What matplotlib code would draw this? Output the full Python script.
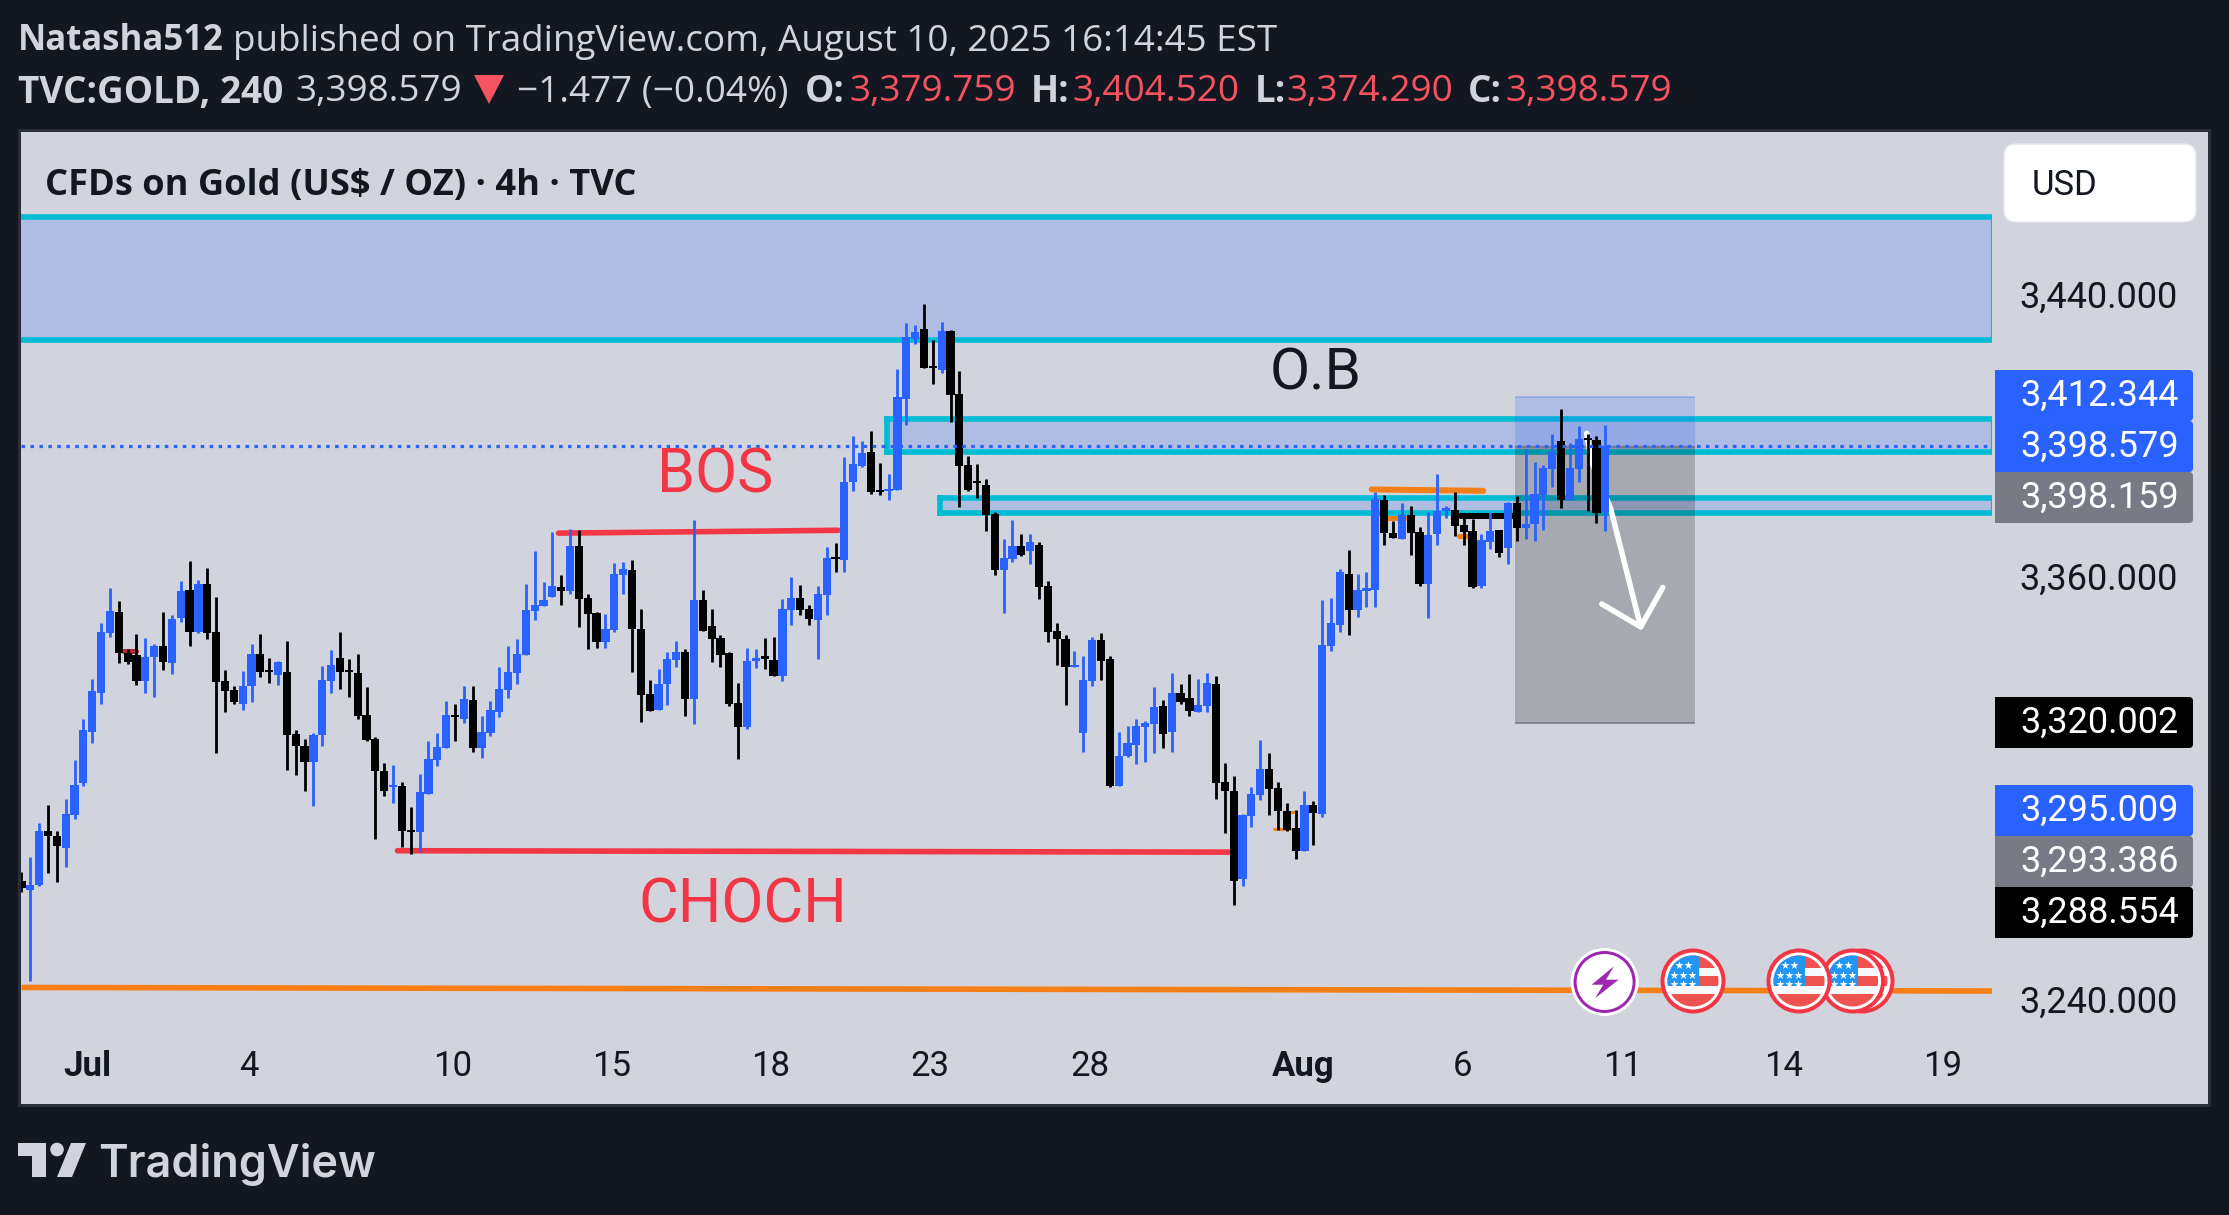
import matplotlib
matplotlib.use('Agg')
import matplotlib.pyplot as plt
from matplotlib.patches import Rectangle, FancyBboxPatch, Circle, Polygon
from matplotlib.transforms import ScaledTranslation

plt.rcParams['font.family'] = ['Roboto', 'DejaVu Sans']

BG = '#131722'
PANEL = '#D1D4DC'
BLUE = '#2962FF'
TEAL = '#00BCD4'
RED = '#F23645'
ORANGE = '#F57F17'
HEAD_RED = '#F7525F'
W, H = 2229, 1215
PX = 0.72  # one pixel in points at dpi 100

# 4h candles
highs = [3277.7,3281.8,3291.6,3296.8,3289.3,3298.5,3309.5,3321.0,3332.4,3348.3,
         3358.2,3354.6,3340.8,3345.2,3344.1,3342.3,3351.5,3350.5,3360.3,3365.9,
         3360.5,3363.9,3355.6,3335.0,3330.4,3334.7,3342.3,3345.2,3338.4,3337.6,
         3343.2,3318.0,3315.3,3317.1,3336.1,3340.6,3345.8,3338.0,3339.5,3330.2,
         3315.9,3308.6,3308.0,3303.2,3296.1,3305.5,3314.8,3317.1,3326.3,3325.2,
         3330.4,3330.4,3321.9,3326.1,3335.9,3341.7,3343.9,3359.3,3368.7,3359.9,
         3374.2,3361.9,3375.0,3374.7,3356.6,3351.5,3350.9,3365.4,3365.6,3366.3,
         3352.3,3332.1,3335.3,3340.1,3343.2,3340.9,3377.5,3357.7,3352.3,3344.9,
         3340.1,3331.3,3341.2,3340.8,3344.1,3344.3,3355.1,3361.3,3359.1,3353.4,
         3358.8,3369.9,3371.0,3395.3,3401.4,3400.0,3402.8,3393.7,3390.6,3420.4,
         3433.4,3432.9,3438.8,3428.6,3433.7,3431.5,3419.8,3395.8,3393.4,3389.1,
         3379.8,3372.1,3377.5,3373.6,3373.6,3371.3,3360.1,3348.3,3344.9,3340.3,
         3339.0,3344.3,3345.4,3339.0,3317.4,3319.0,3321.0,3320.5,3330.2,3326.5,
         3334.1,3331.0,3333.9,3332.4,3334.1,3333.3,3308.6,3304.9,3294.1,3301.8,
         3315.1,3311.4,3303.2,3297.3,3295.3,3300.6,3297.9,3354.8,3355.4,3363.6,
         3369.1,3362.2,3362.8,3385.5,3384.6,3377.2,3382.3,3381.5,3375.5,3379.8,
         3390.5,3381.5,3385.4,3379.1,3377.9,3373.5,3379.9,3374.6,3382.6,3384.3,
         3397.8,3393.9,3393.0,3401.9,3409.0,3399.3,3404.1,3401.9,3401.3,3404.52]
body_tops = [3275,3274.0,3289.3,3289.3,3287.9,3294.1,3302.3,3318.0,3329.0,3345.8,
             3351.7,3351.5,3339.7,3339.1,3338.6,3341.7,3341.7,3349.4,3357.4,3357.7,
             3359.3,3359.3,3345.8,3331.9,3329.2,3330.4,3339.5,3339.5,3334.9,3337.2,
             3334.4,3316.8,3313.4,3316.5,3332.1,3336.4,3338.4,3334.9,3334.1,3322.2,
             3315.3,3306.3,3302.3,3302.0,3289.5,3300.4,3309.7,3313.1,3322.2,3322.2,
             3326.7,3326.5,3317.4,3323.7,3329.6,3334.4,3339.5,3352.0,3353.4,3354.8,
             3358.8,3358.5,3370.1,3370.1,3355.3,3351.1,3346.6,3362.2,3363.6,3363.4,
             3346.6,3328.2,3331.0,3338.0,3340.1,3340.1,3354.8,3354.8,3347.4,3344.1,
             3339.7,3325.6,3337.6,3338.4,3338.8,3337.8,3352.3,3355.4,3355.4,3352.3,
             3356.6,3366.7,3366.9,3388.3,3393.4,3396.5,3396.9,3386.1,3386.3,3412.4,
             3429.3,3430.9,3431.7,3421.2,3431.1,3431.1,3413.3,3393.1,3388.5,3387.5,
             3379.3,3366.7,3370.1,3370.1,3371.3,3370.5,3358.8,3346.0,3343.7,3336.5,
             3332.1,3343.5,3343.5,3338.0,3310.7,3314.3,3319.0,3319.9,3324.5,3324.7,
             3328.4,3328.4,3327.0,3325.1,3331.3,3331.0,3303.2,3300.6,3293.7,3299.8,
             3306.9,3306.9,3301.4,3295.1,3290.1,3296.7,3296.7,3342.1,3348.3,3362.8,
             3362.2,3357.7,3358.2,3383.4,3383.2,3373.9,3378.9,3378.9,3374.1,3373.2,
             3380.0,3380.8,3380.3,3376.0,3374.4,3371.8,3374.4,3374.6,3382.4,3382.3,
             3376.5,3384.9,3392.2,3396.8,3399.9,3392.2,3400.5,3400.7,3400.2,3398.579]
body_bottoms = [3273,3272.6,3274.0,3287.9,3284.9,3284.4,3293.9,3302.9,3317.5,3328.4,
                3345.4,3339.7,3337.2,3331.9,3331.9,3338.6,3337.2,3337.0,3349.7,3345.8,
                3345.8,3345.4,3331.7,3329.1,3325.9,3325.2,3330.3,3334.4,3334.3,3333.6,
                3316.4,3313.3,3309.0,3309.0,3316.4,3331.9,3334.4,3334.3,3321.9,3315.1,
                3306.4,3300.6,3301.7,3289.3,3288.9,3289.0,3299.9,3309.4,3312.7,3321.5,
                3321.0,3312.7,3312.7,3317.1,3323.1,3329.3,3334.0,3339.3,3351.8,3353.2,
                3355.7,3357.4,3357.4,3355.1,3350.9,3342.8,3342.8,3346.3,3362.0,3346.5,
                3328.0,3323.2,3323.7,3331.0,3337.8,3326.8,3326.8,3345.9,3343.7,3339.2,
                3325.4,3318.8,3318.8,3337.5,3338.1,3333.3,3333.3,3352.0,3352.0,3349.4,
                3349.1,3356.2,3366.4,3366.1,3388.3,3392.9,3385.6,3385.4,3385.7,3385.9,
                3411.9,3429.0,3420.7,3420.6,3420.1,3413.1,3392.9,3386.1,3387.9,3379.0,
                3363.4,3363.4,3366.4,3367.6,3368.7,3358.5,3345.8,3343.7,3335.8,3335.8,
                3317.1,3331.9,3337.6,3302.0,3302.0,3310.6,3313.8,3318.8,3319.6,3316.8,
                3317.4,3325.9,3323.2,3323.1,3324.7,3303.0,3300.6,3275.2,3275.6,3293.6,
                3299.6,3301.3,3295.1,3289.6,3283.7,3283.6,3294.3,3294.1,3341.7,3347.8,
                3352.0,3352.0,3357.4,3357.8,3373.9,3372.5,3372.2,3373.9,3359.3,3359.4,
                3373.5,3380.1,3375.8,3374.1,3358.6,3358.8,3371.2,3368.2,3369.6,3375.3,
                3375.3,3376.4,3384.6,3392.0,3383.3,3383.2,3392.0,3400.2,3379.6,3379.759]
lows = [3272,3246.7,3273.8,3277.5,3274.7,3279.1,3292.8,3302.0,3314.3,3325.2,
        3344.3,3337.0,3336.8,3330.7,3328.4,3327.3,3335.0,3333.9,3348.6,3341.7,
        3345.4,3343.7,3311.5,3323.1,3325.4,3323.7,3325.9,3332.9,3331.3,3330.7,
        3306.7,3305.1,3300.6,3296.5,3313.3,3328.4,3329.6,3327.3,3321.0,3314.9,
        3287.0,3299.2,3297.3,3284.7,3282.9,3283.3,3299.9,3307.7,3312.7,3314.9,
        3320.0,3311.7,3310.0,3316.3,3321.6,3327.0,3331.0,3339.3,3349.1,3353.0,
        3355.7,3353.4,3356.6,3347.2,3340.9,3341.2,3341.2,3345.8,3356.6,3334.4,
        3320.2,3323.2,3323.7,3325.1,3335.8,3321.9,3319.7,3345.9,3337.2,3335.8,
        3324.7,3309.8,3318.2,3335.5,3335.3,3333.3,3331.9,3347.8,3350.5,3347.8,
        3338.0,3350.5,3362.8,3362.8,3385.7,3392.7,3384.9,3384.6,3383.2,3385.9,
        3404.5,3427.4,3420.7,3416.1,3419.2,3405.3,3381.2,3385.7,3383.9,3374.4,
        3361.9,3351.1,3365.6,3367.3,3365.0,3355.1,3342.9,3336.4,3325.1,3335.8,
        3311.7,3330.4,3332.1,3301.8,3302.0,3310.4,3308.2,3308.9,3311.3,3312.7,
        3311.7,3325.4,3321.9,3323.1,3323.1,3298.4,3288.7,3268.4,3273.8,3290.4,
        3298.2,3293.9,3289.6,3289.3,3281.4,3283.6,3285.3,3293.3,3340.5,3345.8,
        3344.9,3350.0,3352.9,3352.9,3370.4,3372.5,3372.2,3367.7,3358.8,3349.8,
        3370.5,3378.1,3373.0,3370.5,3358.3,3358.3,3369.4,3367.1,3365.1,3371.6,
        3372.2,3371.6,3374.7,3386.9,3381.0,3383.2,3388.4,3380.1,3376.7,3374.29]
# U = blue up candle, d = black down candle
directions = ("dUUddUUUUU" "UdddUUdUUd" "UddddUUddU" "dddUUUdddd" "ddUddUUUUd" "UdUUUUUUUU"
              "UdUdddUUUd" "ddUUUdUddd" "ddUUddUUdd" "UUdUUUddUU" "UUddUddddd" "dUUdUddddU"
              "UUddUUUUUd" "UddUUdddUU" "UddddUdUUU" "dUUUddUddU" "UUdddUUdUd" "UUUUdUUddU")

x_tick_bars = [7.5, 25.7, 48.7, 66.7, 84.7, 102.7, 120.8, 144.9, 162.9, 180.9, 199.1, 217.1]
x_tick_labels = ['Jul', '4', '10', '15', '18', '23', '28', 'Aug', '6', '11', '14', '19']
y_ticks = [3440, 3360, 3240]
y_tick_labels = ['3,440.000', '3,360.000', '3,240.000']

last_price = 3398.579
position_stop = 3412.344
position_entry = 3398.159
position_target = 3320.002

# drawn levels: x0, x1, price0, price1
bos_line = (60.7, 92.3, 3373.8, 3374.6)
choch_line = (42.5, 136.4, 3283.7, 3283.3)
low_line = (0, 222.7, 3244.9, 3243.9)
orange_top = (152.6, 165.2, 3386.2, 3385.8)
zone_top = (3463.5, 3428.7)
zone_mid = (97.8, 3406.2, 3396.9)
zone_low = (103.8, 3383.8, 3379.6)

# price labels on the right: text, colour, top pixel
axis_labels = [('3,412.344', BLUE, 370), ('3,398.579', BLUE, 421), ('3,398.159', '#787B86', 472),
               ('3,320.002', '#000000', 697), ('3,295.009', BLUE, 785),
               ('3,293.386', '#787B86', 836), ('3,288.554', '#000000', 887)]

fig = plt.figure(figsize=(W / 100, H / 100), dpi=100, facecolor=BG)


def px_axes(zorder):
    a = fig.add_axes([0, 0, 1, 1], zorder=zorder)
    a.set_xlim(0, W)
    a.set_ylim(H, 0)
    a.axis('off')
    return a


bg = px_axes(0)
bg.add_patch(Rectangle((18, 129), 2193, 978, fc='#2A2E39', ec='none'))
bg.add_patch(Rectangle((21, 132), 2187, 972, fc=PANEL, ec='none'))

# price pane, x in bars and y in price
L, R, T, B = 21, 1992, 132, 1040
ax = fig.add_axes([L / W, 1 - B / H, (R - L) / W, (B - T) / H], zorder=1)
ax.patch.set_visible(False)
for s in ax.spines.values():
    s.set_visible(False)
ax.set_xlim(-0.05, 222.7)
ax.set_ylim(3230.0, 3487.6)

ax.add_patch(Rectangle((-1, zone_top[1]), 224, zone_top[0] - zone_top[1], fc=BLUE, alpha=0.2, ec='none', zorder=1))
ax.hlines(zone_top, -1, 222.7, color=TEAL, lw=5.6 * PX, zorder=1.5)
ax.vlines(222.6, zone_top[1], zone_top[0], color=TEAL, lw=1.2 * PX, zorder=1.5)
for x0, p_hi, p_lo in [zone_mid, zone_low]:
    ax.add_patch(Rectangle((x0, p_lo), 222.7 - x0, p_hi - p_lo, fc=BLUE, alpha=0.2, ec='none', zorder=1))
    ax.hlines([p_hi, p_lo], x0 - 0.3, 222.7, color=TEAL, lw=5.6 * PX, zorder=1.5)
    ax.vlines(x0, p_lo - 0.8, p_hi + 0.8, color=TEAL, lw=5.6 * PX, zorder=1.5)
    ax.vlines(222.6, p_lo, p_hi, color=TEAL, lw=1.2 * PX, zorder=1.5)

# short position box
pos_x0, pos_x1 = 168.8, 189.1
ax.add_patch(Rectangle((pos_x0, position_entry), pos_x1 - pos_x0, position_stop - position_entry,
                       fc=BLUE, alpha=0.2, ec='none', zorder=2))
ax.add_patch(Rectangle((pos_x0, position_target), pos_x1 - pos_x0, position_entry - position_target,
                       fc='#000000', alpha=0.2, ec='none', zorder=2))
ax.hlines(position_stop, pos_x0, pos_x1, color=BLUE, alpha=0.25, lw=2 * PX, zorder=2)
ax.hlines(position_entry, pos_x0, pos_x1, color='#787B86', lw=2.4 * PX, zorder=2)
ax.hlines(position_target, pos_x0, pos_x1, color='#787B86', alpha=0.8, lw=2 * PX, zorder=2)


def level(seg, color, lw=5.6):
    ax.plot(seg[:2], seg[2:], color=color, lw=lw * PX, solid_capstyle='round', zorder=3)


level(bos_line, RED)
level(choch_line, RED)
ax.plot(low_line[:2], low_line[2:], color=ORANGE, lw=5.6 * PX, solid_capstyle='butt', zorder=3)
level(orange_top, ORANGE, 6)
level((154.3, 156.5, 3378.2, 3378.2), ORANGE, 5)
level((162.5, 164, 3372.9, 3372.9), ORANGE, 5)
level((141.6, 143.4, 3289.9, 3289.9), ORANGE, 3)
level((143.0, 144.0, 3294.6, 3294.6), ORANGE, 3)
level((162.7, 168.6, 3378.6, 3378.6), '#000000', 6)
level((11.5, 12.9, 3340.4, 3340.4), '#B22833', 5)

# hand drawn arrow
arrow_x = [176.9, 177.4, 179.6, 183.0]
arrow_p = [3402.1, 3394.5, 3380.8, 3347.2]
ax.plot(arrow_x, arrow_p, color='white', lw=5.5 * PX, solid_capstyle='round', zorder=3.5)
ax.plot([178.6, 183.0, 185.5], [3353.7, 3347.2, 3358.4], color='white', lw=5.5 * PX,
        solid_capstyle='round', solid_joinstyle='round', zorder=3.5)

bars = list(range(len(highs)))
colors = [BLUE if d == 'U' else '#000000' for d in directions]
ax.vlines(bars, lows, highs, colors=colors, lw=2.8 * PX, zorder=4)
ax.bar(bars, [t - b for t, b in zip(body_tops, body_bottoms)], bottom=body_bottoms, width=0.93,
       color=colors, linewidth=0, zorder=5)

ax.axhline(last_price, color=BLUE, lw=3.2 * PX, linestyle=(0, (1.1, 1.7)), zorder=6)

ax.text(78.4, 3385.2, 'BOS', color=RED, fontsize=44, ha='center', va='baseline', zorder=7)
ax.text(81.5, 3263.3, 'CHOCH', color=RED, fontsize=44, ha='center', va='baseline', zorder=7)
ax.text(146.2, 3414.6, 'O.B', color='#131722', fontsize=42, ha='center', va='baseline', zorder=7)

ax.set_xticks(x_tick_bars)
ax.set_xticklabels(x_tick_labels, fontsize=25, color='#131722')
for lab in ax.get_xticklabels():
    if lab.get_text() in ('Jul', 'Aug'):
        lab.set_fontweight('bold')
ax.tick_params(axis='x', length=0, pad=7)
ax.yaxis.tick_right()
ax.set_yticks(y_ticks)
ax.set_yticklabels(y_tick_labels, fontsize=26, color='#131722')
ax.tick_params(axis='y', length=0, pad=20)
up = ScaledTranslation(0, 4 / 72, fig.dpi_scale_trans)
for lab in ax.get_yticklabels():
    lab.set_transform(lab.get_transform() + up)

# everything that sits around the chart, in pixels
top = px_axes(2)
top.add_patch(FancyBboxPatch((2010, 150), 180, 66, boxstyle='round,pad=6,rounding_size=12',
                             fc='white', ec='#E6E7EC', lw=1))
top.text(2032, 182, 'USD', fontsize=25, color='#131722', va='center_baseline')
HEAD_FONT = ['Open Sans', 'DejaVu Sans']
top.text(45, 181, 'CFDs on Gold (US$ / OZ) · 4h · TVC', fontsize=26.1, fontweight='bold',
         family=HEAD_FONT, color='#131722', va='center_baseline')

for text, color, y in axis_labels:
    top.add_patch(FancyBboxPatch((2050, y + 4), 139, 43, boxstyle='round,pad=4,rounding_size=4', fc=color, ec='none'))
    top.add_patch(Rectangle((1995, y), 80, 51, fc=color, ec='none'))
    top.text(2020, y + 22, text, fontsize=26, color='white', va='center_baseline')

# event icons
def flag(cx, cy):
    top.add_patch(Circle((cx, cy), 32.5, fc=RED, ec='none'))
    top.add_patch(Circle((cx, cy), 28.5, fc='white', ec='none'))
    clip = Circle((cx, cy), 25.5, transform=top.transData)
    parts = [Rectangle((cx - 27, cy - 27), 54, 54, fc='#F8F9FD', ec='none')]
    for y0, y1 in [(-27, -13), (-5, 5), (13, 27)]:
        parts.append(Rectangle((cx - 27, cy + y0), 54, y1 - y0, fc='#EF5350', ec='none'))
    parts.append(Rectangle((cx - 27, cy - 27), 32.5, 32, fc='#2196F3', ec='none'))
    for p in parts:
        top.add_patch(p)
        p.set_clip_path(clip)
    for row, dy in enumerate([-16, -6, 3]):
        xs = [-14, -5] if row == 0 else [-19, -10, -1]
        sc = top.scatter([cx + dx for dx in xs], [cy + dy] * len(xs), marker='*', s=38, c='white', linewidths=0)
        sc.set_clip_path(clip)


top.add_patch(Circle((1604.6, 982), 34, fc='white', ec='none'))
top.add_patch(Circle((1604.6, 982), 29.5, fc='white', ec='#9C27B0', lw=3 * PX))
top.add_patch(Polygon([(1613.9, 966.3), (1591.6, 984.7), (1603.2, 984.7), (1595.3, 998),
                       (1618.6, 979.7), (1606, 979.7)], closed=True, fc='#9C27B0', ec='none'))
flag(1862, 981)
flag(1852.6, 981)
flag(1799, 981)
flag(1693, 981)

# header lines
head = dict(family=HEAD_FONT, fontsize=26.5, va='center_baseline')
line2 = dict(family=HEAD_FONT, fontsize=26.6, va='center_baseline')
top.text(18, 37, 'Natasha512', color=PANEL, fontweight='bold', family=HEAD_FONT, fontsize=25, va='center_baseline')
top.text(233, 37, 'published on TradingView.com, August 10, 2025 16:14:45 EST', color=PANEL, **head)
top.text(18, 88, 'TVC:GOLD, 240', color=PANEL, fontweight='bold', **line2)
top.text(295, 88, '3,398.579', color=PANEL, **line2)
top.add_patch(Polygon([(474, 75), (504, 75), (489, 104)], closed=True, fc=HEAD_RED, ec='none'))
top.text(517, 88, '−1.477 (−0.04%)', color=PANEL, **line2)
for lx, name, vx, val in [(805, 'O:', 849, '3,379.759'), (1031, 'H:', 1072, '3,404.520'),
                          (1255, 'L:', 1286, '3,374.290'), (1468, 'C:', 1505, '3,398.579')]:
    top.text(lx, 88, name, color=PANEL, fontweight='bold', **line2)
    top.text(vx, 88, val, color=HEAD_RED, **line2)

# TradingView logo
LOGO = '#D1D4DC'
top.add_patch(Polygon([(18, 1143), (46, 1143), (46, 1177), (32, 1177), (32, 1156), (18, 1156)], closed=True, fc=LOGO, ec='none'))
top.add_patch(Circle((57, 1149.5), 6.8, fc=LOGO, ec='none'))
top.add_patch(Polygon([(71, 1143), (86, 1143), (72, 1177), (57, 1177)], closed=True, fc=LOGO, ec='none'))
top.text(98, 1177, 'TradingView', color=LOGO, fontsize=32.4, fontweight='semibold',
         family=['Inter', 'DejaVu Sans'], va='baseline')

assert len(highs) == len(lows) == len(body_tops) == len(body_bottoms) == len(directions)
fig.savefig('out.png', dpi=100, facecolor=BG)
